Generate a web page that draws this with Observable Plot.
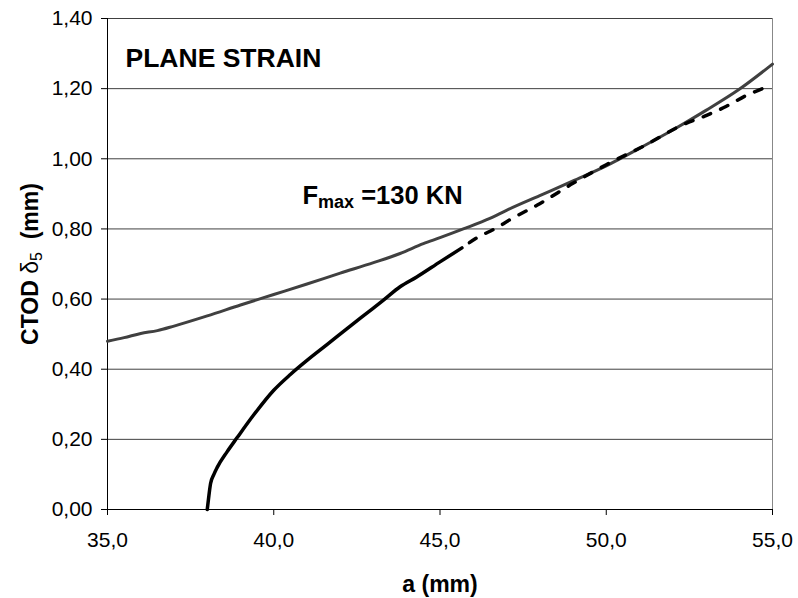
<!DOCTYPE html>
<html><head><meta charset="utf-8">
<script src="https://cdn.jsdelivr.net/npm/d3@7"></script>
<script src="https://cdn.jsdelivr.net/npm/@observablehq/plot@0.6"></script>
<style>
body{margin:0;background:#fff}
#chart g[aria-label^="x-axis"] text, #chart g[aria-label^="y-axis"] text{font-size:21px;font-family:"Liberation Sans",Arial,sans-serif;fill:#000}
</style>
</head><body><div id="chart"></div>
<script>
// Tick values
const xTicks = [35, 40, 45, 50, 55];
const yTicks = [0, 0.2, 0.4, 0.6, 0.8, 1.0, 1.2, 1.4];

// Gray series (solid, upper curve)
const grayA = [35.0, 35.5, 36.0, 36.5, 37.0, 38.0, 39.0, 40.0, 41.0, 42.0, 43.0, 43.8, 44.5, 45.0, 45.7, 46.5, 47.0, 48.0, 49.0, 50.0, 51.0, 52.0, 53.0, 54.0, 55.0];
const grayV = [0.480, 0.490, 0.502, 0.510, 0.523, 0.552, 0.583, 0.613, 0.643, 0.674, 0.704, 0.730, 0.758, 0.775, 0.800, 0.830, 0.853, 0.895, 0.937, 0.980, 1.030, 1.082, 1.138, 1.198, 1.270];

// Black series (solid part)
const solidA = [38.0, 38.05, 38.1, 38.2, 38.3, 38.6, 38.9, 39.4, 40.0, 40.5, 41.0, 41.6, 42.3, 42.8, 43.3, 43.8, 44.3, 45.0, 45.66];
const solidV = [0.0, 0.04, 0.074, 0.10, 0.12, 0.165, 0.205, 0.27, 0.34, 0.385, 0.425, 0.47, 0.523, 0.56, 0.597, 0.635, 0.663, 0.706, 0.746];

// Black series (dashed extrapolation)
const dashA = [45.66, 46.1, 46.7, 47.1, 48.0, 49.0, 50.0, 51.2, 52.3, 53.0, 53.6, 54.2, 54.7];
const dashV = [0.746, 0.774, 0.803, 0.826, 0.872, 0.930, 0.983, 1.040, 1.097, 1.123, 1.149, 1.180, 1.200];

// Texts
const annotation1 = "PLANE STRAIN";
const annotation2 = ["F", "max", " =130 KN"];
const xLabel = "a (mm)";
const yLabel = ["CTOD ", "δ", "5", "  (mm)"];

const toRows = (A, V) => A.map((a, i) => ({a, v: V[i]}));
const gray = toRows(grayA, grayV);
const solid = toRows(solidA, solidV);
const dash = toRows(dashA, dashV);

const fmt1 = d => d.toFixed(1).replace(".", ",");
const fmt2 = d => d.toFixed(2).replace(".", ",");

const ann2Key = annotation2.join("");
const yLabelKey = yLabel.join("");

const svg = Plot.plot({
  width: 798,
  height: 598,
  marginLeft: 107,
  marginRight: 26,
  marginTop: 18,
  marginBottom: 89,
  style: {fontFamily: '"Liberation Sans", Arial, sans-serif', fontSize: "21px", background: "#fff", color: "#000"},
  x: {domain: [35, 55], ticks: xTicks, tickFormat: fmt1, tickSize: 6, tickPadding: 17, label: null},
  y: {domain: [0, 1.4], ticks: yTicks, tickFormat: fmt2, tickSize: 6, tickPadding: 9, label: null},
  marks: [
    Plot.ruleY(yTicks, {stroke: "#404040", strokeWidth: 1}),
    Plot.ruleX([55], {stroke: "#888", strokeWidth: 1}),
    Plot.ruleX([35], {stroke: "#000", strokeWidth: 1}),
    Plot.ruleY([0], {stroke: "#000", strokeWidth: 1}),
    Plot.line(gray, {x: "a", y: "v", stroke: "#404040", strokeWidth: 3, curve: "monotone-x"}),
    Plot.line(solid, {x: "a", y: "v", stroke: "#000", strokeWidth: 3.5, curve: "monotone-x"}),
    Plot.line(dash, {x: "a", y: "v", stroke: "#000", strokeWidth: 3.5, curve: "monotone-x", strokeDasharray: "8,11", strokeDashoffset: 10}),
    Plot.text([annotation1], {frameAnchor: "top-left", dx: 18, dy: 48, textAnchor: "start", lineAnchor: "bottom", fontWeight: "bold", fontSize: 26.5, fill: "#000"}),
    Plot.text([ann2Key], {frameAnchor: "top-left", dx: 195, dy: 185, textAnchor: "start", lineAnchor: "bottom", fontWeight: "bold", fontSize: 25.5, fill: "#000"}),
    Plot.text([xLabel], {frameAnchor: "bottom", dy: 82, textAnchor: "middle", lineAnchor: "bottom", fontWeight: "bold", fontSize: 23, fill: "#000"}),
    Plot.text([yLabelKey], {frameAnchor: "left", dx: -70, rotate: -90, textAnchor: "middle", lineAnchor: "bottom", fontWeight: "bold", fontSize: 23, fill: "#000"})
  ]
});

d3.select(svg).selectAll("text").each(function() {
  const t = d3.select(this);
  if (this.textContent === ann2Key) {
    t.text(null);
    t.append("tspan").text(annotation2[0]);
    t.append("tspan").attr("font-size", 18).attr("dy", 4).text(annotation2[1]);
    t.append("tspan").attr("dy", -4).text(annotation2[2]);
  } else if (this.textContent === yLabelKey) {
    t.text(null);
    t.append("tspan").text(yLabel[0]);
    t.append("tspan").attr("font-weight", "normal").text(yLabel[1]);
    t.append("tspan").attr("font-size", 16).attr("font-weight", "normal").attr("dy", 4).text(yLabel[2]);
    t.append("tspan").attr("dy", -4).text(yLabel[3]);
  }
});

document.getElementById("chart").appendChild(svg);
</script>
</body></html>
